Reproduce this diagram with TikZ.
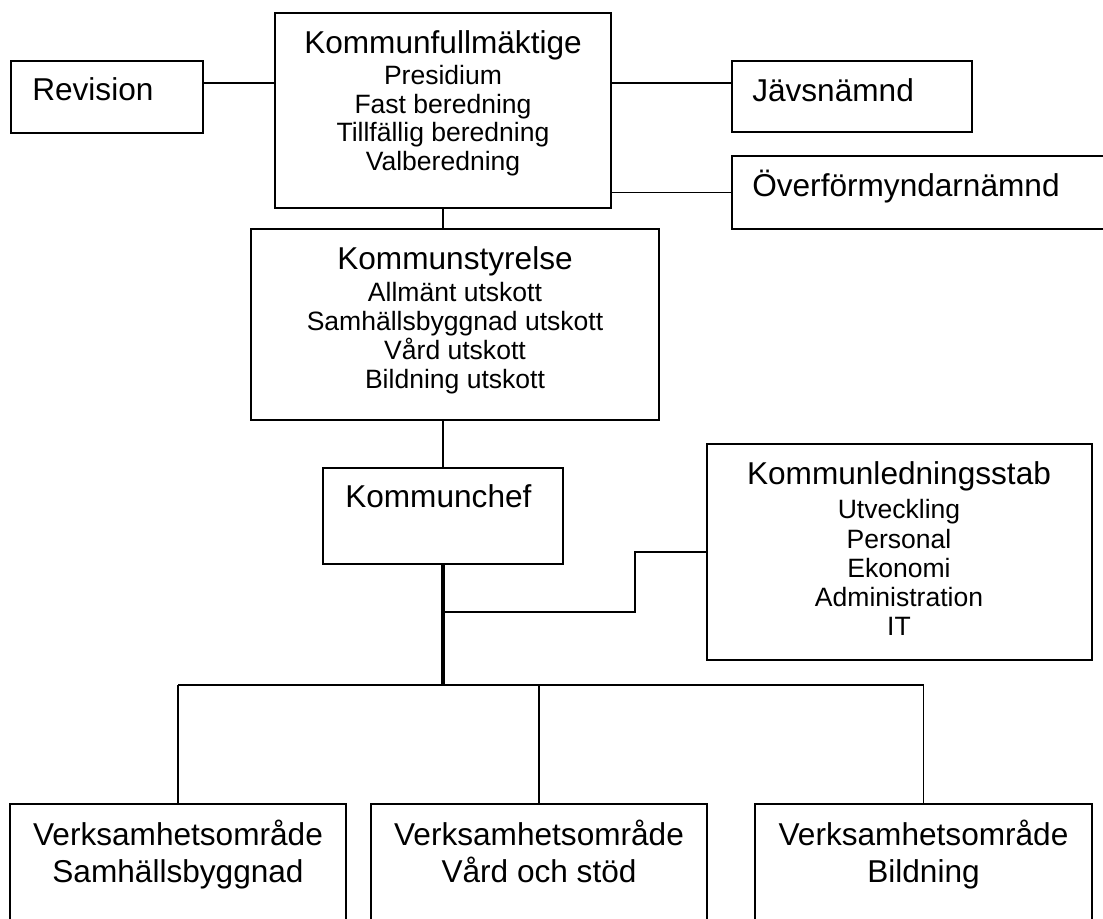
\documentclass[tikz,border=0pt]{standalone}
\usepackage{fontspec}
\setmainfont{Liberation Sans}
\usetikzlibrary{fit}
\newcommand{\bigfnt}{\fontsize{23.7pt}{28pt}\selectfont}
\newcommand{\smallfnt}{\fontsize{19.9pt}{24pt}\selectfont}
\begin{document}
\begin{tikzpicture}[x=0.75pt,y=-0.75pt,
  box/.style={draw, line width=1.3pt, inner sep=0pt, outer sep=0pt},
  conn/.style={line width=1pt},
  thickconn/.style={line width=2.3pt},
  midconn/.style={line width=1.5pt},
  big/.style={font=\bigfnt, inner sep=0pt},
  small/.style={font=\smallfnt, inner sep=0pt}]
\useasboundingbox (0,0) rectangle (1103,919);
\clip (0,0) rectangle (1103,919);

% Revision
\node[box, fit={(11,61) (203,133)}] (rev) {};
\node[big, anchor=base west] (revt) at (32,101) {Revision};

% Kommunfullmaktige
\node[box, fit={(275,13) (611,208)}] (kf) {};
\node[big, anchor=base] (kft) at (443,54) {Kommunfullmäktige};
\node[small, anchor=base] (kf1) at (443,85) {Presidium};
\node[small, anchor=base] (kf2) at (443,113.5) {Fast beredning};
\node[small, anchor=base] (kf3) at (443,142) {Tillfällig beredning};
\node[small, anchor=base] (kf4) at (443,170.5) {Valberedning};

% Javsnamnd
\node[box, fit={(732,61) (972,132)}] (jav) {};
\node[big, anchor=base west] (javt) at (752,102) {Jävsnämnd};

% Overformyndarnamnd
\node[box, fit={(732,156) (1115,229)}] (ofn) {};
\node[big, anchor=base west] (ofnt) at (752,197) {Överförmyndarnämnd};

% Kommunstyrelse
\node[box, fit={(251,229) (659,420)}] (ks) {};
\node[big, anchor=base] (kst) at (455,270) {Kommunstyrelse};
\node[small, anchor=base] (ks1) at (455,302) {Allmänt utskott};
\node[small, anchor=base] (ks2) at (455,331) {Samhällsbyggnad utskott};
\node[small, anchor=base] (ks3) at (455,360) {Vård utskott};
\node[small, anchor=base] (ks4) at (455,389) {Bildning utskott};

% Kommunchef
\node[box, fit={(323,468) (563,564)}] (kc) {};
\node[big, anchor=base west] (kct) at (345,508) {Kommunchef};

% Kommunledningsstab
\node[box, fit={(707,444) (1092,660)}] (kls) {};
\node[big, anchor=base] (klst) at (899,485) {Kommunledningsstab};
\node[small, anchor=base] (kls1) at (899,519) {Utveckling};
\node[small, anchor=base] (kls2) at (899,548) {Personal};
\node[small, anchor=base] (kls3) at (899,577) {Ekonomi};
\node[small, anchor=base] (kls4) at (899,606) {Administration};
\node[small, anchor=base] (kls5) at (899,635) {IT};

% Verksamhetsomraden
\node[box, fit={(10,804) (346,960)}] (b1) {};
\node[big, anchor=base] (b1a) at (178,845) {Verksamhetsområde};
\node[big, anchor=base] (b1b) at (178,882) {Samhällsbyggnad};
\node[box, fit={(371,804) (707,960)}] (b2) {};
\node[big, anchor=base] (b2a) at (539,845) {Verksamhetsområde};
\node[big, anchor=base] (b2b) at (539,882) {Vård och stöd};
\node[box, fit={(755,804) (1092,960)}] (b3) {};
\node[big, anchor=base] (b3a) at (923.5,845) {Verksamhetsområde};
\node[big, anchor=base] (b3b) at (923.5,882) {Bildning};

% helper coordinates
\coordinate (ytop) at (0,83);
\coordinate (hbar) at (0,685);
\coordinate (bend) at (635,612);

% connectors
\draw[conn] (rev.east |- ytop) -- (kf.west |- ytop);
\draw[conn] (kf.east |- ytop) -- (jav.west |- ytop);
\draw[conn] (kf.east |- ofn.west) -- (ofn.west);
\draw[conn] (kf.south) -- (kf.south |- ks.north);
\draw[conn] (kc.north |- ks.south) -- (kc.north);
\draw[thickconn] (kc.south) -- (kc.south |- hbar);
\draw[midconn] (kc.south |- bend) -- (bend) |- (kls.west);
\draw[midconn] (b1.north |- hbar) -- (b3.north |- hbar);
\draw[conn] (b1.north |- hbar) -- (b1.north);
\draw[conn] (b2.north |- hbar) -- (b2.north);
\draw[conn] (b3.north |- hbar) -- (b3.north);
\end{tikzpicture}
\end{document}
